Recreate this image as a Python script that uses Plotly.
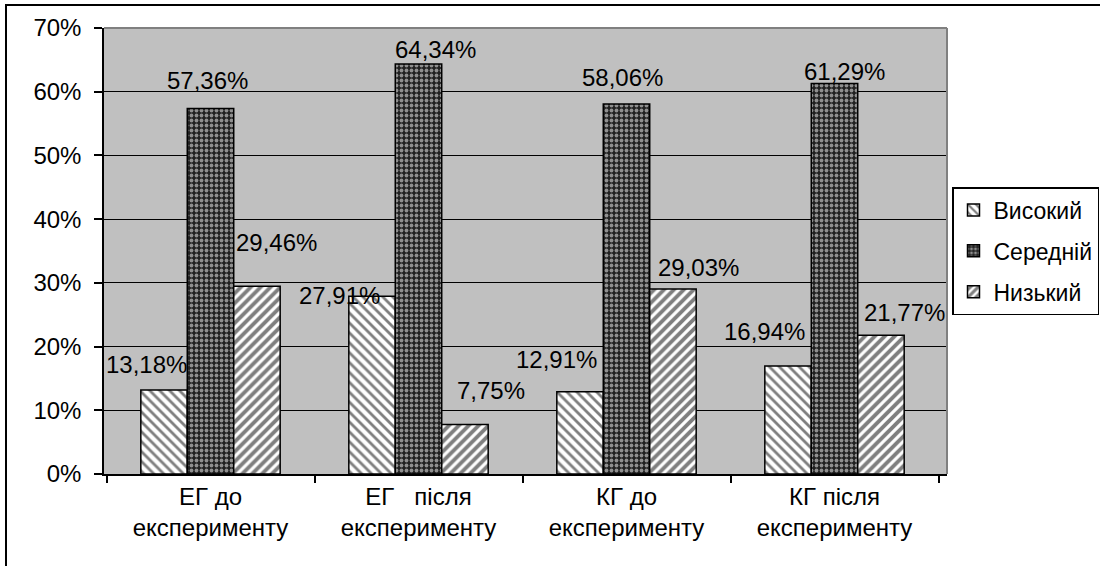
import plotly.graph_objects as go

# ---- data ----
categories = ["ЕГ до<br>експерименту", "ЕГ\u00a0\u00a0 після<br>експерименту",
              "КГ до<br>експерименту", "КГ після<br>експерименту"]
series_names = ["Високий", "Середній", "Низький"]
vysokyi = [13.18, 27.91, 12.91, 16.94]
serednii = [57.36, 64.34, 58.06, 61.29]
nyzkyi = [29.46, 7.75, 29.03, 21.77]
y_ticks = [0, 10, 20, 30, 40, 50, 60, 70]
y_tick_text = [f"{t}%" for t in y_ticks]

# ---- style ----
FONT = "Liberation Sans, Arial, sans-serif"
FS = 24
patterns = [
    dict(shape="\\", fgcolor="black", bgcolor="white", size=7, solidity=0.4),
    dict(shape=".", fgcolor="white", bgcolor="#202020", size=5, solidity=0.45),
    dict(shape="/", fgcolor="black", bgcolor="white", size=7, solidity=0.55),
]
# label offsets (pixels) relative to each bar top centre, as in the original
label_dx = [[-17, -32, -23, -23], [-3, 17, -4, 10], [19, 25, 25, 23]]
label_dy = [[26, 1, 32, 35], [28, 15, 27, 12], [44, 34, 22, 23]]
BAR_PX = 47

fig = go.Figure()
all_series = [vysokyi, serednii, nyzkyi]
for name, vals, pat in zip(series_names, all_series, patterns):
    fig.add_trace(go.Bar(
        name=name, x=categories, y=vals, legendgroup=name,
        marker=dict(color=pat["bgcolor"], pattern=pat,
                    line=dict(color="black", width=1.5)),
    ))

annotations = []
for k, vals in enumerate(all_series):
    for i, v in enumerate(vals):
        annotations.append(dict(
            x=categories[i], y=v, xref="x", yref="y",
            text=f"{v:.2f}".replace(".", ",") + "%",
            showarrow=False, xanchor="center", yanchor="middle",
            xshift=(k - 1) * BAR_PX + label_dx[k][i], yshift=label_dy[k][i],
            font=dict(family=FONT, size=FS, color="black"),
        ))

L, R, T, B = 104, 153, 28, 92
W, H = 1100, 566
pw, ph = W - L - R, H - T - B

def px_x(p):
    return (p - L) / pw

def px_y(p):
    return (H - B - p) / ph

shapes = [
    # outer chart border
    dict(type="rect", xref="paper", yref="paper",
         x0=px_x(6), x1=px_x(1150), y0=px_y(620), y1=px_y(5),
         line=dict(color="black", width=2), fillcolor="rgba(0,0,0,0)", layer="above"),
    # plot area top/right border (grey)
    dict(type="line", xref="paper", yref="paper", x0=0, x1=1, y0=1, y1=1,
         line=dict(color="#808080", width=2)),
    dict(type="line", xref="paper", yref="paper", x0=1, x1=1, y0=0, y1=1,
         line=dict(color="#808080", width=2)),
]

fig.update_layout(
    width=W, height=H,
    margin=dict(l=L, r=R, t=T, b=B, autoexpand=False),
    paper_bgcolor="white", plot_bgcolor="#c0c0c0",
    barmode="group", bargap=0.33, bargroupgap=0,
    font=dict(family=FONT, size=FS, color="black"),
    showlegend=True,
    legend=dict(x=px_x(952), y=px_y(187), xanchor="left", yanchor="top",
                bordercolor="black", borderwidth=1.5, bgcolor="white",
                font=dict(family=FONT, size=FS - 1), itemwidth=30,
                entrywidth=150, entrywidthmode="pixels",
                tracegroupgap=8, traceorder="grouped"),
    annotations=annotations,
    shapes=shapes,
)
fig.update_xaxes(
    type="category", tickson="boundaries", ticks="outside", ticklen=7,
    tickcolor="black", tickwidth=1.5, showline=True, linecolor="black",
    linewidth=1.5, showgrid=False, tickfont=dict(family=FONT, size=FS),
)
fig.update_yaxes(
    range=[0, 70], tickvals=y_ticks, ticktext=y_tick_text, ticks="outside",
    ticklen=8, tickcolor="black", tickwidth=1.5, showline=True,
    linecolor="black", linewidth=1.5, showgrid=True, gridcolor="black",
    gridwidth=1.2, zeroline=False, ticklabelstandoff=8,
    tickfont=dict(family=FONT, size=FS),
)

fig.write_html("out.html", config={"displayModeBar": False},
               post_script="document.body.style.margin='0';")
